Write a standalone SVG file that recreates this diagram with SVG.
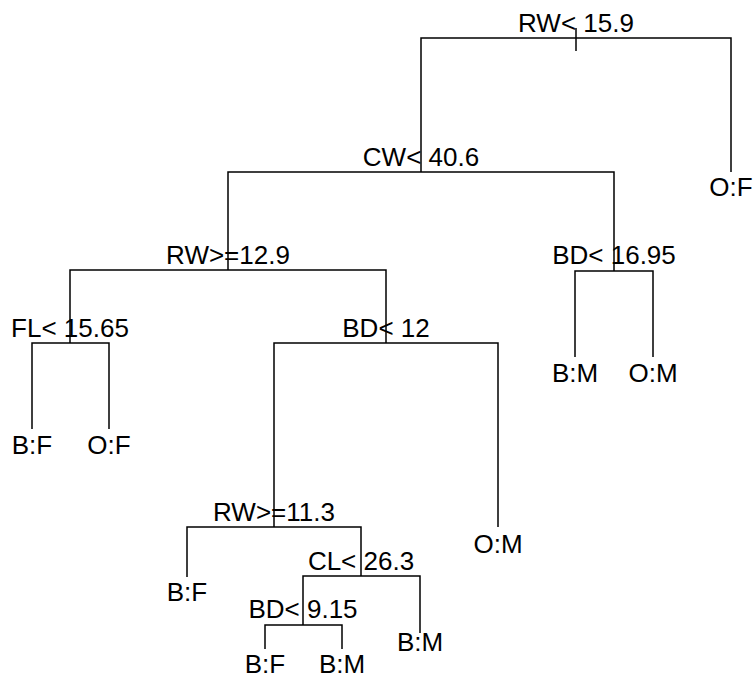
<svg xmlns="http://www.w3.org/2000/svg" width="756" height="678" viewBox="0 0 756 678">
<style>
.e{fill:none;stroke:#000;stroke-width:1.5;stroke-linecap:butt}
text{font-family:"Liberation Sans",Arial,sans-serif;font-size:26px;fill:#000;text-anchor:middle}
</style>
<rect width="756" height="678" fill="#fff"/>
<g id="connectors">
<path class="e" d="M576,28V51"/>
<path class="e" d="M421,172V38H731V172"/>
<path class="e" d="M228,270V172H614V271"/>
<path class="e" d="M70,343V270H386V343"/>
<path class="e" d="M32,429V343H109V429"/>
<path class="e" d="M274,527V343H498V527"/>
<path class="e" d="M187,577V527H361V576"/>
<path class="e" d="M303,625V576H420V633"/>
<path class="e" d="M265,649V625H342V649"/>
<path class="e" d="M575,357V271H653V357"/>
</g>
<g id="n1"><text x="576" y="32">RW&lt; 15.9</text></g>
<g id="n2"><text x="421" y="166">CW&lt; 40.6</text></g>
<g id="n3"><text x="731" y="196">O:F</text></g>
<g id="n4"><text x="228" y="264">RW&gt;=12.9</text></g>
<g id="n5"><text x="614" y="264">BD&lt; 16.95</text></g>
<g id="n6"><text x="70" y="337">FL&lt; 15.65</text></g>
<g id="n7"><text x="386" y="337">BD&lt; 12</text></g>
<g id="n8"><text x="32" y="454">B:F</text></g>
<g id="n9"><text x="109" y="454">O:F</text></g>
<g id="n10"><text x="575" y="382">B:M</text></g>
<g id="n11"><text x="653" y="382">O:M</text></g>
<g id="n12"><text x="274" y="521">RW&gt;=11.3</text></g>
<g id="n13"><text x="498" y="553">O:M</text></g>
<g id="n14"><text x="187" y="601">B:F</text></g>
<g id="n15"><text x="361" y="570">CL&lt; 26.3</text></g>
<g id="n16"><text x="303" y="618">BD&lt; 9.15</text></g>
<g id="n17"><text x="420" y="651">B:M</text></g>
<g id="n18"><text x="265" y="673">B:F</text></g>
<g id="n19"><text x="342" y="673">B:M</text></g>
</svg>
